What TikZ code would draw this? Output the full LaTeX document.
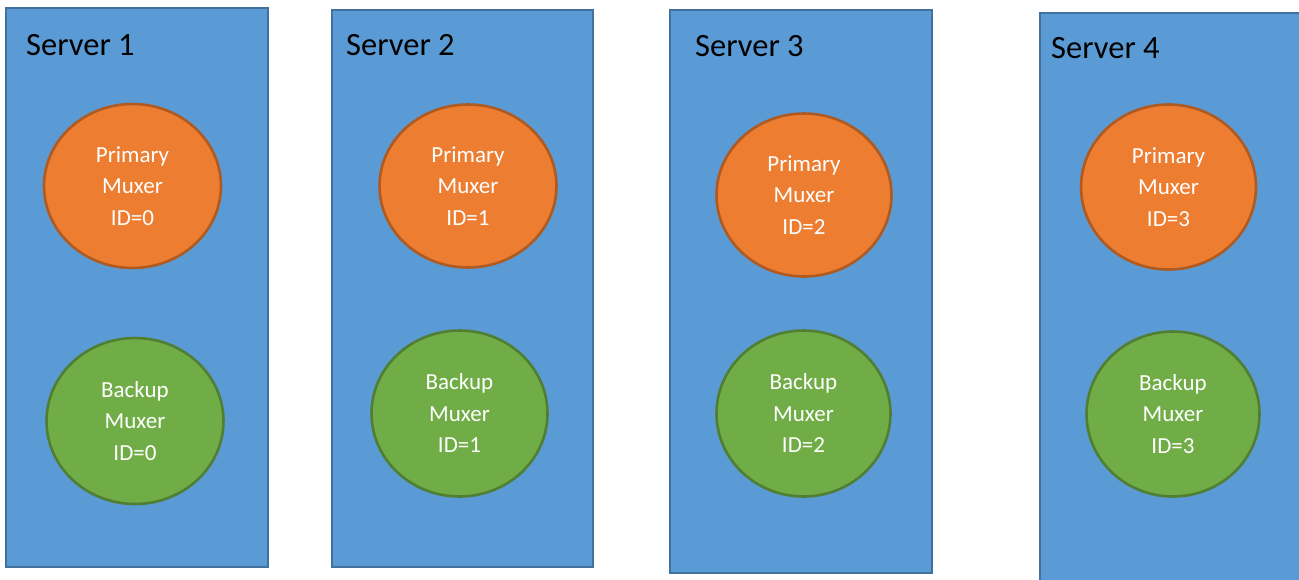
\documentclass[tikz,border=0pt]{standalone}
\usepackage{fontspec}
\setmainfont{Carlito}
\usetikzlibrary{shapes.geometric}
\definecolor{boxfill}{HTML}{5B9BD5}
\definecolor{boxline}{HTML}{41719C}
\definecolor{prifill}{HTML}{ED7D31}
\definecolor{priline}{HTML}{AE5A21}
\definecolor{bakfill}{HTML}{70AD47}
\definecolor{bakline}{HTML}{507E32}
\tikzset{
  server/.style={draw=boxline, fill=boxfill, line width=2.8pt},
  muxer/.style={ellipse, inner sep=0pt, line width=2.6pt, text=white,
    align=center, font=\fontsize{23}{31.5}\selectfont},
  primary/.style={muxer, draw=priline, fill=prifill},
  backup/.style={muxer, draw=bakline, fill=bakfill},
  title/.style={anchor=base west, inner sep=0pt, font=\fontsize{32.5}{38}\selectfont}
}
\begin{document}
\begin{tikzpicture}[x=1pt,y=-1pt]
\clip (0,0) rectangle (1299,579);
\fill[white] (0,0) rectangle (1299,579);
% boxes
\draw[server] (6,8) rectangle (268,567) node[pos=0,inner sep=0pt] (box1) {};
\draw[server] (332,10) rectangle (593,567) node[pos=0,inner sep=0pt] (box2) {};
\draw[server] (670,10) rectangle (932,573) node[pos=0,inner sep=0pt] (box3) {};
\draw[server] (1040,13) rectangle (1320,600) node[pos=0,inner sep=0pt] (box4) {};
% titles
\node[title] (t1) at (26,55) {Server 1};
\node[title] (t2) at (346,55) {Server 2};
\node[title] (t3) at (695,56) {Server 3};
\node[title] (t4) at (1051,58) {Server 4};
% primary muxers
\node[primary, minimum width=177pt, minimum height=164pt] (p1) at (132.5,186) {Primary\\Muxer\\ID=0};
\node[primary, minimum width=177pt, minimum height=163pt] (p2) at (468,186) {Primary\\Muxer\\ID=1};
\node[primary, minimum width=175pt, minimum height=163pt] (p3) at (804,195) {Primary\\Muxer\\ID=2};
\node[primary, minimum width=175pt, minimum height=165pt] (p4) at (1168.5,187) {Primary\\Muxer\\ID=3};
% backup muxers
\node[backup, minimum width=177pt, minimum height=166pt] (b1) at (135,421) {Backup\\Muxer\\ID=0};
\node[backup, minimum width=176pt, minimum height=166pt] (b2) at (459.5,413.5) {Backup\\Muxer\\ID=1};
\node[backup, minimum width=174pt, minimum height=166pt] (b3) at (803.5,413.5) {Backup\\Muxer\\ID=2};
\node[backup, minimum width=173pt, minimum height=165pt] (b4) at (1173,414) {Backup\\Muxer\\ID=3};
\end{tikzpicture}
\end{document}
